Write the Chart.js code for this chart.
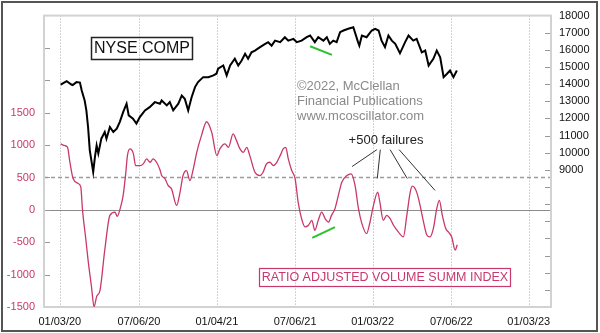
<!DOCTYPE html>
<html><head><meta charset="utf-8">
<script src="https://cdn.jsdelivr.net/npm/chart.js@4.4.1/dist/chart.umd.min.js"></script>
<style>html,body{margin:0;padding:0;background:#fff;}#wrap{width:600px;height:333px;position:relative;}</style>
</head><body><div id="wrap"><canvas id="c" width="600" height="333"></canvas></div>
<script>
// x values are calendar days counted from 2020-01-03
const xTickDays = [0, 185, 367, 550, 731, 915, 1096];
const xTickLabels = ['01/03/20', '07/06/20', '01/04/21', '07/06/21', '01/03/22', '07/06/22', '01/03/23'];
const leftTicks = [-1500, -1000, -500, 0, 500, 1000, 1500, 2000, 2500, 3000];
const leftLabelMax = 1500;
const rightTicks = [1000, 2000, 3000, 4000, 5000, 6000, 7000, 8000, 9000, 10000, 11000, 12000, 13000, 14000, 15000, 16000, 17000, 18000];
const rightLabelMin = 9000;

const nyseDays = [2,16,27,30,39,47,51,58,62,66,70,78,82,86,90,97,105,109,117,125,133,140,148,156,161,171,179,187,199,210,222,234,238,250,257,265,277,285,292,300,308,316,323,335,347,359,366,370,382,390,398,409,417,425,433,440,448,456,468,480,487,495,503,515,526,534,546,554,565,577,585,596,604,616,624,631,639,647,655,663,674,686,697,700,706,717,729,737,745,752,760,768,776,784,795,807,815,826,834,846,854,862,873,881,889,897,905,912,920,928];
const nyseValues = [13970,14180,13980,13950,14120,14090,13640,13050,12470,11500,10140,8880,9750,10430,9950,10820,11210,10820,11500,11210,11400,11790,12370,12860,12180,11990,11700,12080,12470,12660,12950,12860,13050,12760,12950,12470,12860,13340,13150,12470,13240,13830,14120,14410,14410,14510,14610,14900,15090,14510,15090,15480,15090,15380,15770,15480,15860,15960,16160,16350,16450,16250,16540,16450,16740,16540,16640,16450,16540,16740,16840,16450,16740,16540,16740,16350,16540,16450,17030,17130,17230,17320,16450,16250,16840,16740,17130,17230,17130,16540,16160,16840,16540,16350,15800,16450,16840,16540,16640,15860,15960,15090,15480,15960,15570,14410,14610,14800,14410,14800];

const rasiDays = [2,12,18,23,31,43,49,53,61,66,74,80,86,94,105,117,129,134,142,148,154,158,164,172,177,187,195,203,211,218,226,234,238,246,253,261,273,281,288,296,304,312,320,331,343,355,367,374,386,394,405,413,421,429,437,444,456,468,475,483,491,499,507,515,522,528,534,542,550,557,565,573,581,589,596,604,612,620,628,635,643,651,659,671,681,690,698,706,717,725,733,743,748,756,764,772,780,791,803,811,819,824,834,842,850,858,865,873,881,887,894,902,908,916,924,929];
const rasiValues = [1018,992,966,761,484,407,351,0,-469,-777,-1187,-1495,-1340,-1238,-623,-85,-34,-100,43,223,561,838,941,864,684,684,710,787,735,787,735,620,530,480,377,326,69,274,530,607,453,634,889,1146,1361,1197,838,941,1018,966,1172,1069,941,889,966,838,581,530,581,710,735,684,735,838,941,966,787,607,480,120,-135,-264,-238,-161,-315,-161,-34,-135,-187,-85,18,223,428,530,557,377,18,-212,-366,-187,69,274,120,-161,-85,-135,-238,-341,-418,-85,274,366,274,69,-187,-392,-418,-289,18,146,-85,-289,-341,-418,-623,-540];

// annotation segments (data coordinates)
const greenTopDays = [585, 636], greenTopValues = [16210, 15710];
const greenBotDays = [590, 643], greenBotValues = [-434, -265];
const failLines = [
  [[741, 930], [683, 669]],
  [[749, 930], [742, 484]],
  [[772, 930], [812, 484]],
  [[793, 930], [877, 300]]
];

const F = '"Liberation Sans", Arial, sans-serif';
const PINK = '#c8386c';
const pts = (xs, ys) => xs.map((x, i) => ({x: x, y: ys[i]}));

const datasets = [
  {data: pts(nyseDays, nyseValues), yAxisID: 'yR', borderColor: '#000', borderWidth: 2, pointRadius: 0, tension: 0},
  {data: pts(greenTopDays, greenTopValues), yAxisID: 'yR', borderColor: '#2ec02e', borderWidth: 2, pointRadius: 0},
  {data: pts(greenBotDays, greenBotValues), yAxisID: 'yL', borderColor: '#2ec02e', borderWidth: 2, pointRadius: 0},
];
failLines.forEach(seg => datasets.push({data: seg.map(p => ({x: p[0], y: p[1]})), yAxisID: 'yL', borderColor: '#333', borderWidth: 1, pointRadius: 0}));
datasets.push({data: pts(rasiDays, rasiValues), yAxisID: 'yL', borderColor: PINK, borderWidth: 1.3, pointRadius: 0, cubicInterpolationMode: 'monotone'});

const deco = {
  id: 'deco',
  beforeDatasetsDraw(chart) {
    const ctx = chart.ctx, a = chart.chartArea, sx = chart.scales.x, yl = chart.scales.yL, yr = chart.scales.yR;
    ctx.save();
    ctx.strokeStyle = '#a8a8a8'; ctx.lineWidth = 1; ctx.setLineDash([1, 2]);
    xTickDays.forEach(d => { const x = Math.round(sx.getPixelForValue(d)) + 0.5; ctx.beginPath(); ctx.moveTo(x, a.top); ctx.lineTo(x, a.bottom); ctx.stroke(); });
    ctx.strokeStyle = '#9c9c9c'; ctx.lineWidth = 1.5; ctx.setLineDash([4, 3]);
    let y = Math.round(yl.getPixelForValue(500)) + 0.5;
    ctx.beginPath(); ctx.moveTo(a.left, y); ctx.lineTo(a.right, y); ctx.stroke();
    ctx.setLineDash([]); ctx.strokeStyle = '#8c8c8c'; ctx.lineWidth = 1;
    y = Math.round(yl.getPixelForValue(0)) + 0.5;
    ctx.beginPath(); ctx.moveTo(a.left, y); ctx.lineTo(a.right, y); ctx.stroke();
    ctx.strokeStyle = '#999';
    leftTicks.forEach(v => { if (v <= yl.min || v >= yl.max) return; const t = Math.round(yl.getPixelForValue(v)) + 0.5; ctx.beginPath(); ctx.moveTo(a.left, t); ctx.lineTo(a.left + 6, t); ctx.stroke(); });
    rightTicks.forEach(v => { if (v <= yr.min || v >= yr.max) return; const t = Math.round(yr.getPixelForValue(v)) + 0.5; ctx.beginPath(); ctx.moveTo(a.right - 6, t); ctx.lineTo(a.right, t); ctx.stroke(); });
    ctx.strokeStyle = '#d2d2d2'; ctx.lineWidth = 2;
    ctx.strokeRect(a.left, a.top, a.right - a.left, a.bottom - a.top);
    ctx.restore();
  },
  afterDraw(chart) {
    const ctx = chart.ctx;
    ctx.save();
    ctx.strokeStyle = '#555'; ctx.lineWidth = 2;
    ctx.strokeRect(2, 2, 595, 329);
    ctx.strokeStyle = '#222'; ctx.lineWidth = 1.5;
    ctx.strokeRect(91.5, 37.5, 101, 22);
    ctx.fillStyle = '#111'; ctx.font = '16px ' + F; ctx.textAlign = 'center'; ctx.textBaseline = 'middle';
    ctx.fillText('NYSE COMP', 142, 49);
    ctx.fillStyle = '#8a8a8a'; ctx.font = '13px ' + F; ctx.textAlign = 'left';
    ctx.fillText('\u00A92022, McClellan', 297, 86);
    ctx.fillText('Financial Publications', 297, 101);
    ctx.fillText('www.mcoscillator.com', 297, 116);
    ctx.fillStyle = '#222'; ctx.textAlign = 'center';
    ctx.fillText('+500 failures', 386, 140);
    ctx.strokeStyle = PINK; ctx.lineWidth = 1.2;
    ctx.strokeRect(259.5, 268.5, 251, 18);
    ctx.fillStyle = PINK; ctx.font = '12.5px ' + F;
    ctx.fillText('RATIO ADJUSTED VOLUME SUMM INDEX', 385, 278);
    ctx.restore();
  }
};

new Chart(document.getElementById('c'), {
  type: 'line',
  data: {datasets: datasets},
  options: {
    responsive: false, animation: false, devicePixelRatio: 1,
    layout: {padding: {top: 15, left: 0, right: 0, bottom: 0}},
    plugins: {legend: {display: false}, tooltip: {enabled: false}},
    scales: {
      x: {type: 'linear', min: -37, max: 1148,
        afterBuildTicks: s => { s.ticks = xTickDays.map(v => ({value: v})); },
        ticks: {callback: v => { const i = xTickDays.indexOf(v); return i >= 0 ? xTickLabels[i] : ''; }, color: '#111', font: {size: 11, family: F}, padding: 8, maxRotation: 0, autoSkip: false},
        grid: {display: false, drawTicks: false}, border: {display: false},
        afterFit: s => { s.height = 26; }},
      yL: {type: 'linear', position: 'left', min: -1500, max: 3000,
        afterBuildTicks: s => { s.ticks = leftTicks.map(v => ({value: v})); },
        ticks: {callback: v => v <= leftLabelMax ? String(v) : '', color: PINK, font: {size: 11, family: F}, padding: 9, autoSkip: false},
        grid: {display: false, drawTicks: false}, border: {display: false},
        afterFit: s => { s.width = 44; }},
      yR: {type: 'linear', position: 'right', min: 1000, max: 18000,
        afterBuildTicks: s => { s.ticks = rightTicks.map(v => ({value: v})); },
        ticks: {callback: v => v >= rightLabelMin ? String(v) : '', color: '#111', font: {size: 11, family: F}, padding: 8, autoSkip: false},
        grid: {display: false, drawTicks: false}, border: {display: false},
        afterFit: s => { s.width = 49; }}
    }
  },
  plugins: [deco]
});
</script></body></html>
